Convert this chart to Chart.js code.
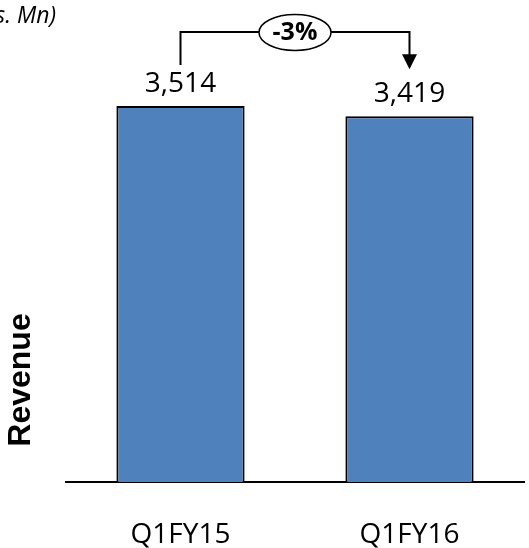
<!DOCTYPE html>
<html>
<head>
<meta charset="utf-8">
<script src="https://cdn.jsdelivr.net/npm/chart.js@4/dist/chart.umd.min.js"></script>
<style>
  html, body { margin: 0; padding: 0; background: #fff; }
  #wrap { width: 529px; height: 548px; position: relative; }
</style>
</head>
<body>
<div id="wrap"><canvas id="c" width="529" height="548"></canvas></div>
<script>
const categories = ["Q1FY15", "Q1FY16"];
const revenue = [3514, 3419];
const yAxisTitle = "Revenue";
const unitNote = "(Rs. Mn)";

const barColor = "#4F81BD";
const numFont = "'Open Sans', 'Liberation Sans', sans-serif";

function fmt(v) { return v.toLocaleString("en-US"); }

const annotationPlugin = {
  id: "annot",
  afterDatasetsDraw(chart) {
    const ctx = chart.ctx;
    const meta = chart.getDatasetMeta(0);
    const b0 = meta.data[0], b1 = meta.data[1];
    ctx.save();
    // value labels
    ctx.fillStyle = "#000";
    ctx.font = "28px " + numFont;
    ctx.textAlign = "center";
    ctx.textBaseline = "bottom";
    const labelTops = [];
    meta.data.forEach((bar, i) => {
      ctx.fillText(fmt(revenue[i]), bar.x, bar.y - 8);
      labelTops.push(bar.y - 8 - 26);
    });

    // growth bracket
    const lineY = 32;
    const x0 = b0.x, x1 = b1.x;
    const leftBottom = labelTops[0] - 7;
    const arrowTip = labelTops[1] - 13;
    ctx.strokeStyle = "#000";
    ctx.lineWidth = 2;
    ctx.beginPath();
    ctx.moveTo(x0, leftBottom);
    ctx.lineTo(x0, lineY);
    ctx.lineTo(x1, lineY);
    ctx.lineTo(x1, arrowTip - 14);
    ctx.stroke();
    ctx.fillStyle = "#000";
    ctx.beginPath();
    ctx.moveTo(x1 - 7.5, arrowTip - 15);
    ctx.lineTo(x1 + 7.5, arrowTip - 15);
    ctx.lineTo(x1, arrowTip);
    ctx.closePath();
    ctx.fill();

    // oval with change
    const cx = (x0 + x1) / 2;
    ctx.beginPath();
    ctx.ellipse(cx, lineY + 0.5, 36, 18, 0, 0, Math.PI * 2);
    ctx.fillStyle = "#fff";
    ctx.fill();
    ctx.lineWidth = 1.5;
    ctx.stroke();
    const pct = Math.round((revenue[1] - revenue[0]) / revenue[0] * 100);
    ctx.fillStyle = "#000";
    ctx.font = "bold 25px " + numFont;
    ctx.textAlign = "center";
    ctx.textBaseline = "middle";
    ctx.fillText(pct + "%", cx, lineY + 1);

    // unit note
    ctx.font = "italic 23px " + numFont;
    ctx.textAlign = "right";
    ctx.textBaseline = "middle";
    ctx.fillText(unitNote, 56, 16);

    // y title
    ctx.save();
    ctx.translate(21, 380);
    ctx.rotate(-Math.PI / 2);
    ctx.font = "bold 32px 'Liberation Sans', Arial, sans-serif";
    ctx.textAlign = "center";
    ctx.textBaseline = "middle";
    ctx.fillText(yAxisTitle, 0, 0);
    ctx.restore();

    ctx.restore();
  }
};

new Chart(document.getElementById("c"), {
  type: "bar",
  data: {
    labels: categories,
    datasets: [{
      data: revenue,
      backgroundColor: barColor,
      borderColor: "#000",
      borderWidth: 2,
      categoryPercentage: 1,
      barPercentage: 0.56
    }]
  },
  options: {
    responsive: false,
    animation: false,
    devicePixelRatio: 1,
    layout: { padding: { left: 66, right: 5, top: 54, bottom: 0 } },
    plugins: { legend: { display: false }, tooltip: { enabled: false } },
    scales: {
      y: { display: false, min: 0, max: 4000 },
      x: {
        grid: { display: false, drawTicks: false },
        border: { display: true, color: "#000", width: 2 },
        ticks: {
          color: "#000",
          padding: 36,
          font: { family: numFont, size: 28 }
        },
        afterFit(scale) { scale.height = 66; }
      }
    }
  },
  plugins: [annotationPlugin]
});
</script>
</body>
</html>
